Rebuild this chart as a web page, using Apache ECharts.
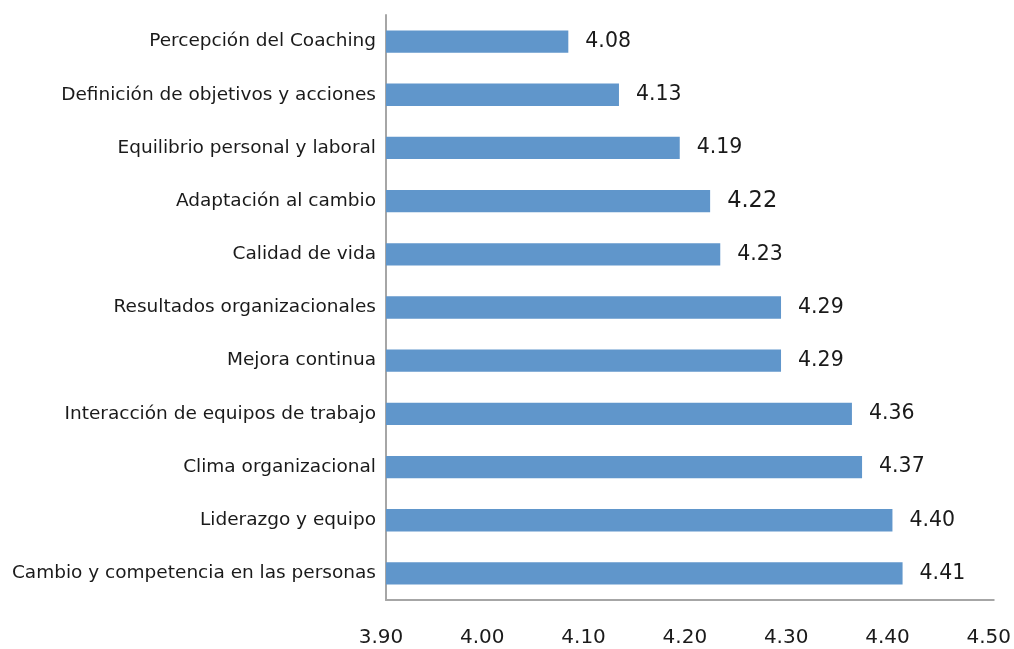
<!DOCTYPE html>
<html><head><meta charset="utf-8">
<script src="https://cdn.jsdelivr.net/npm/echarts@6/dist/echarts.min.js"></script>
<style>html,body{margin:0;padding:0;background:#fff}#c{width:1014px;height:649px}</style>
</head><body><div id="c"></div>
<script>
const categories = [
  "Percepción del Coaching",
  "Definición de objetivos y acciones",
  "Equilibrio personal y laboral",
  "Adaptación al cambio",
  "Calidad de vida",
  "Resultados organizacionales",
  "Mejora continua",
  "Interacción de equipos de trabajo",
  "Clima organizacional",
  "Liderazgo y equipo",
  "Cambio y competencia en las personas"
];
const values = [4.08, 4.13, 4.19, 4.22, 4.23, 4.29, 4.29, 4.36, 4.37, 4.40, 4.41];
const xMin = 3.9, xMax = 4.5, xStep = 0.1;

const FONT = "DejaVu Sans";
const chart = echarts.init(document.getElementById('c'), null, {renderer: 'canvas'});
chart.setOption({
  animation: false,
  grid: {left: 386, right: 20, top: 15, bottom: 49, containLabel: false},
  xAxis: {
    type: 'value', min: xMin, max: xMax, interval: xStep,
    axisLine: {show: true, lineStyle: {color: '#a6a6a6', width: 2}},
    axisTick: {show: false},
    splitLine: {show: false},
    axisLabel: {
      fontFamily: FONT, fontSize: 20, color: '#1a1a1a', margin: 28,
      padding: [0, 10, 0, 0],
      formatter: v => v.toFixed(2)
    }
  },
  yAxis: {
    type: 'category', data: categories, inverse: true,
    axisLine: {show: true, lineStyle: {color: '#a6a6a6', width: 2}},
    axisTick: {show: false},
    axisLabel: {fontFamily: FONT, fontSize: 18.5, color: '#1a1a1a', margin: 10}
  },
  series: [{
    type: 'bar',
    data: values.map((v, i) => ({
      value: v,
      label: i === 3 ? {fontSize: 22.5} : undefined
    })),
    barCategoryGap: '58%',
    itemStyle: {color: '#6096cb'},
    label: {
      show: true, position: 'right', distance: 17,
      fontFamily: FONT, fontSize: 20.5, color: '#1a1a1a',
      formatter: p => p.value.toFixed(2)
    }
  }]
});
</script></body></html>
